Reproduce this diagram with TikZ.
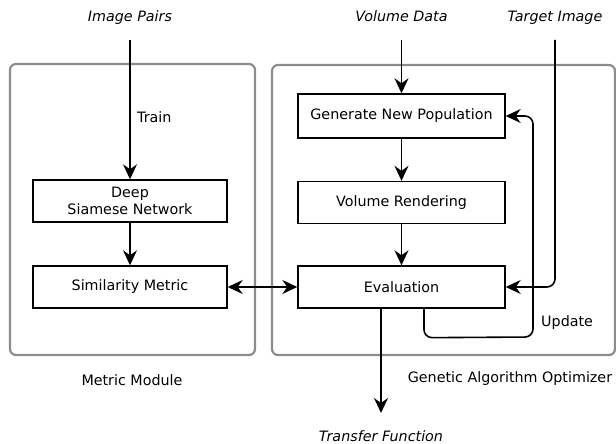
\documentclass[tikz,border=0pt]{standalone}
\usepackage{fontspec}
\setmainfont{DejaVu Sans}
\usetikzlibrary{arrows.meta}
\begin{document}
\begin{tikzpicture}[x=1pt,y=-1pt,
  font=\fontsize{14.3}{17}\selectfont,
  container/.style={draw=black!45,line width=2.2pt,rounded corners=6pt},
  blk/.style={draw=black,line width=1.4pt,minimum width=194pt,minimum height=42pt,inner sep=0pt,align=center,anchor=center},
  tip/.tip={Stealth[length=15pt,width=14pt,inset=5pt]},
  arr/.style={line width=1.6pt,-tip},
  lbl/.style={inner sep=0pt,anchor=base}
]
\useasboundingbox (0,0) rectangle (616,444);
\draw[container] (10,64) rectangle (255,355);
\draw[container] (272,65) rectangle (615,355);

\node[blk] (dsn) at (130,201) {Deep\\Siamese Network};
\node[blk] (sim) at (130,287) {Similarity Metric};
\node[blk,minimum width=207pt,minimum height=44pt] (gnp) at (401.5,116) {Generate New Population};
\node[blk,minimum width=207pt] (vr) at (401.5,202.5) {Volume Rendering};
\node[blk,minimum width=207pt] (ev) at (401.5,287) {Evaluation};

\node[lbl,font=\fontsize{14.3}{17}\selectfont\itshape] (ip) at (130,22) {Image Pairs};
\node[lbl,font=\fontsize{14.3}{17}\selectfont\itshape] (vd) at (401.5,22) {Volume Data};
\node[lbl,font=\fontsize{14.3}{17}\selectfont\itshape] (ti) at (555,22) {Target Image};
\node[lbl,font=\fontsize{14.3}{17}\selectfont\itshape] (tf) at (381,441) {Transfer Function};
\node[lbl,anchor=base west] (tr) at (137,122) {Train};
\node[lbl,anchor=base west] (up) at (541,326) {Update};
\node[lbl] (mm) at (132,385) {Metric Module};
\node[lbl] (gao) at (510,382) {Genetic Algorithm Optimizer};

\coordinate (ipb) at (130,40);
\coordinate (vdb) at (401.5,40);
\coordinate (tib) at (555,40);
\coordinate (tfe) at (381,413);

\draw[arr] (ipb) -- (dsn.north);
\draw[arr] (dsn) -- (sim);
\draw[arr] (vdb) -- (gnp.north);
\draw[arr] (gnp) -- (vr);
\draw[arr] (vr) -- (ev);
\draw[line width=1.6pt,tip-tip] (sim.east) -- (ev.west);
\draw[arr] (ev.south -| tfe) -- (tfe);
\draw[arr,rounded corners=8pt] (tib) -- (tib |- ev.east) -- (ev.east);
\draw[arr,rounded corners=8pt] ([xshift=22.5pt]ev.south) -- ++(0,29) -- (533,337) -- (533,116) -- (gnp.east);
\end{tikzpicture}
\end{document}
